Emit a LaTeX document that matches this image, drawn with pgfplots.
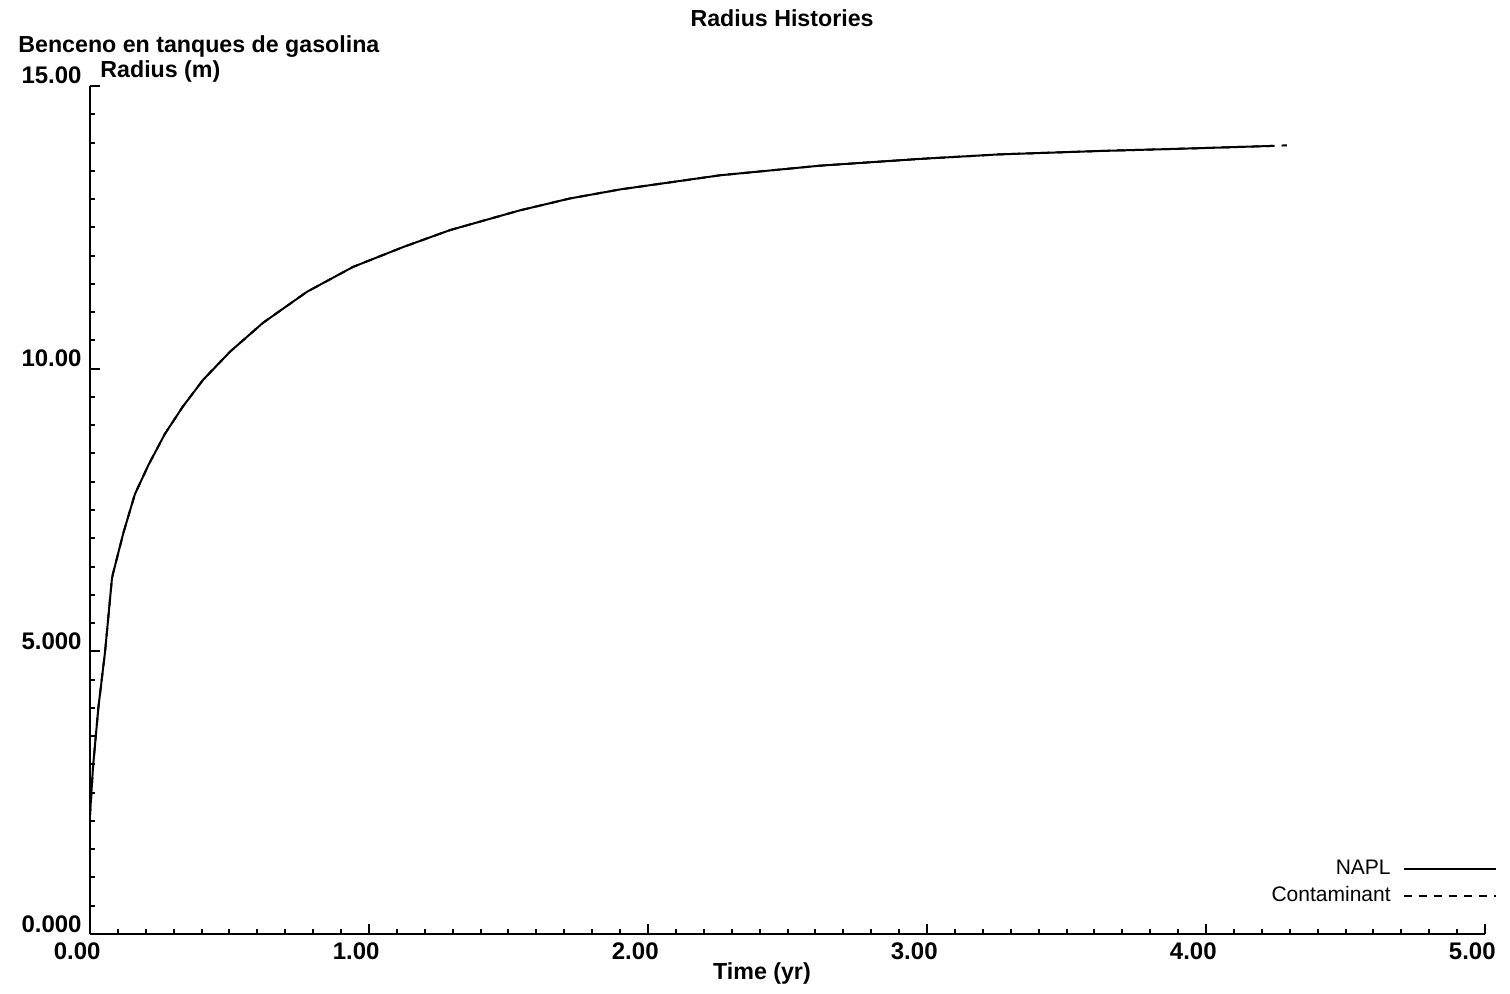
\documentclass[border=0pt]{standalone}
\usepackage{pgfplots}
\pgfplotsset{compat=1.18}
\usepackage{fontspec}
\setmainfont{Liberation Sans}
\begin{document}
\begin{tikzpicture}
\begin{axis}[
  scale only axis, width=697.5pt, height=424pt,
  xmin=0, xmax=5, ymin=0, ymax=15,
  clip=false,
  axis lines=left,
  axis line style={-, line width=1pt},
  every tick/.style={black, line width=1pt},
  major tick length=5pt, minor tick length=2.5pt,
  tick align=inside,
  xtick={0,1,2,3,4,5},
  xticklabels={0.00,1.00,2.00,3.00,4.00,5.00},
  ytick={0,5,10,15},
  yticklabels={0.000,5.000,10.00,15.00},
  minor x tick num=9, minor y tick num=9,
  ticklabel style={font=\fontsize{12}{13}\selectfont\bfseries, inner sep=0pt},
  xticklabel style={anchor=north east, xshift=5.5pt, yshift=-4pt},
  yticklabel style={anchor=base east, xshift=-4pt, yshift=1pt},
  xlabel={Time (yr)},
  xlabel style={at={(axis description cs:0.4817,-0.046)}, anchor=center, font=\fontsize{11.6}{13}\selectfont\bfseries},
  legend plot pos=right,
  legend cell align=right,
  legend image code/.code={\draw[#1] (0pt,0pt) -- (46pt,0pt);},
  legend style={draw=none, fill=none, at={(axis description cs:1.0086,0.090)}, anchor=north east,
    inner sep=0pt, column sep=5pt, row sep=2.5pt, font=\fontsize{10.5}{12}\selectfont,
    nodes={inner sep=1pt}},
]
\path (axis description cs:-0.0645,-0.0696) rectangle (axis description cs:1.0179,1.1014);
\addplot[black, line width=1pt] coordinates {
(0,2.1) (0.011,2.96) (0.030,4.0) (0.054,4.99) (0.079,6.30) (0.090,6.52) (0.12,7.1)
(0.161,7.78) (0.21,8.30) (0.269,8.85) (0.333,9.33) (0.405,9.80) (0.502,10.30)
(0.62,10.81) (0.778,11.36) (0.943,11.80) (1.122,12.15) (1.29,12.45) (1.541,12.80)
(1.72,13.01) (1.90,13.17) (2.258,13.42) (2.616,13.59) (2.975,13.71) (3.26,13.79) (3.62,13.85)
(3.98,13.90) (4.24,13.94)
};
\addlegendentry{NAPL}
\addplot[black, line width=1pt, dash pattern=on 4pt off 3.5pt] coordinates {
(0,2.1) (0.011,2.96) (0.030,4.0) (0.054,4.99) (0.079,6.30) (0.090,6.52) (0.12,7.1)
(0.161,7.78) (0.21,8.30) (0.269,8.85) (0.333,9.33) (0.405,9.80) (0.502,10.30)
(0.62,10.81) (0.778,11.36) (0.943,11.80) (1.122,12.15) (1.29,12.45) (1.541,12.80)
(1.72,13.01) (1.90,13.17) (2.258,13.42) (2.616,13.59) (2.975,13.71) (3.26,13.79) (3.62,13.85)
(3.98,13.90) (4.24,13.94) (4.29,13.95)
};
\addlegendentry{Contaminant}
\node[anchor=base, inner sep=0pt, font=\fontsize{11.6}{13}\selectfont\bfseries] at (axis description cs:0.4961,1.0696) {Radius Histories};
\node[anchor=base west, inner sep=0pt, font=\fontsize{11.6}{13}\selectfont\bfseries] at (axis description cs:-0.0516,1.0389) {Benceno en tanques de gasolina};
\node[anchor=base west, inner sep=0pt, font=\fontsize{11.6}{13}\selectfont\bfseries] at (axis description cs:0.0072,1.0094) {Radius (m)};
\end{axis}
\end{tikzpicture}
\end{document}
